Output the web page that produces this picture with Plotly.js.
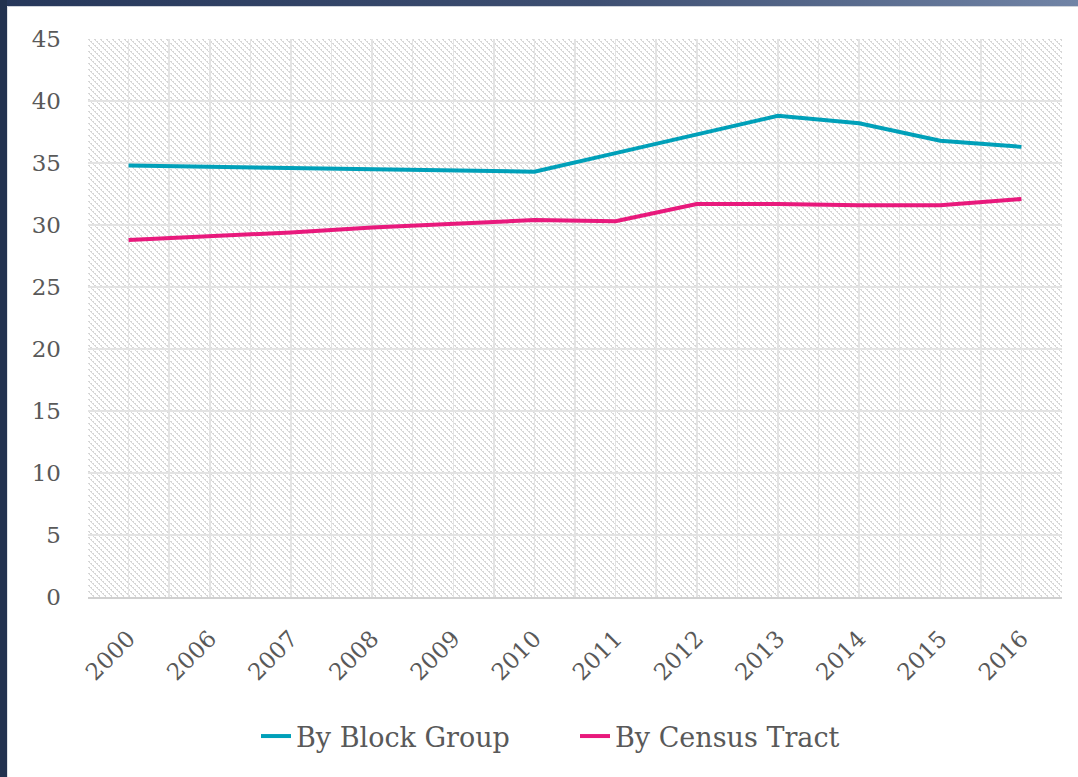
<!DOCTYPE html>
<html>
<head>
<meta charset="utf-8">
<script src="https://cdn.plot.ly/plotly-3.0.1.min.js"></script>
<style>
  html, body { margin: 0; padding: 0; background: #ffffff; }
  #frame { position: relative; width: 1078px; height: 777px; overflow: hidden; background: #ffffff; }
  #topband { position: absolute; left: 0; top: 0; width: 1078px; height: 6px;
    background: linear-gradient(to right, #26375a 0%, #3e4f72 55%, #7184a6 100%); }
  #topline { position: absolute; left: 0; top: 6px; width: 1078px; height: 1px; background: #cfd3da; }
  #leftband { position: absolute; left: 0; top: 0; width: 7px; height: 777px; background: #22324f; }
  #leftline { position: absolute; left: 7px; top: 6px; width: 1px; height: 771px; background: #dfe2e6; }
  #hatch { position: absolute; left: 88px; top: 39px; width: 974px; height: 558px;
    background-color: #ffffff;
    background-image: url("data:image/svg+xml,%3Csvg xmlns='http://www.w3.org/2000/svg' width='6' height='6' shape-rendering='crispEdges'%3E%3Cpath d='M0 0h2v1H0zM1 1h1v1H1zM2 2h2v1H2zM3 3h1v1H3zM4 4h2v1H4zM5 5h1v1H5z' fill='%23d7d7d7'/%3E%3C/svg%3E");
    background-repeat: repeat; }
  #chart { position: absolute; left: 0; top: 0; width: 1078px; height: 777px; }
</style>
</head>
<body>
<div id="frame">
  <div id="hatch"></div>
  <div id="chart"></div>
  <div id="topband"></div>
  <div id="topline"></div>
  <div id="leftband"></div>
  <div id="leftline"></div>
</div>
<script>
const years = ['2000','2006','2007','2008','2009','2010','2011','2012','2013','2014','2015','2016'];
const blockGroup = [34.8, 34.7, 34.6, 34.5, 34.4, 34.3, 35.8, 37.3, 38.8, 38.2, 36.8, 36.3];
const censusTract = [28.8, 29.1, 29.4, 29.8, 30.1, 30.4, 30.3, 31.7, 31.7, 31.6, 31.6, 32.1];
const seriesNames = ['By Block Group', 'By Census Tract'];
const yTicks = [0, 5, 10, 15, 20, 25, 30, 35, 40, 45];

const FONT = 'DejaVu Serif';
const GRID = '#e3e3e3';

const traces = [
  { type: 'scatter', mode: 'lines', x: years, y: blockGroup, name: seriesNames[0],
    line: { color: '#00a0b9', width: 4 }, xaxis: 'x', yaxis: 'y' },
  { type: 'scatter', mode: 'lines', x: years, y: censusTract, name: seriesNames[1],
    line: { color: '#e8197c', width: 4 }, xaxis: 'x2', yaxis: 'y' }
];

const layout = {
  width: 1078, height: 777,
  margin: { l: 88, r: 16, t: 39, b: 180, pad: 0 },
  paper_bgcolor: 'rgba(0,0,0,0)',
  plot_bgcolor: 'rgba(0,0,0,0)',
  font: { family: FONT, color: '#595959' },
  showlegend: true,
  legend: { orientation: 'h', x: 0.5, xanchor: 'center', y: -0.25, yanchor: 'middle',
    entrywidth: 274, entrywidthmode: 'pixels',
    font: { family: FONT, size: 27, color: '#595959' }, bgcolor: 'rgba(0,0,0,0)' },
  xaxis: {
    type: 'category', categoryorder: 'array', categoryarray: years,
    range: [-0.5, years.length - 0.5], fixedrange: true,
    showgrid: true, gridcolor: GRID, gridwidth: 1.5,
    showline: true, linecolor: '#d0d0d0', linewidth: 2,
    ticks: '', tickangle: -45, ticklabelstandoff: 17,
    tickfont: { family: FONT, size: 23, color: '#595959' }, zeroline: false
  },
  xaxis2: {
    type: 'category', categoryorder: 'array', categoryarray: years,
    overlaying: 'x', side: 'bottom', range: [-0.5, years.length - 0.5],
    tickson: 'boundaries', showgrid: true, gridcolor: GRID, gridwidth: 1.5,
    showticklabels: false, ticks: '', showline: false, zeroline: false
  },
  yaxis: {
    range: [0, 45], tickvals: yTicks, ticktext: yTicks.map(String),
    showgrid: true, gridcolor: GRID, gridwidth: 1.5, zeroline: false, showline: false,
    ticks: '', ticklabelstandoff: 26,
    tickfont: { family: FONT, size: 23, color: '#595959' }
  }
};

Plotly.newPlot('chart', traces, layout, { displayModeBar: false, staticPlot: true });
</script>
</body>
</html>
